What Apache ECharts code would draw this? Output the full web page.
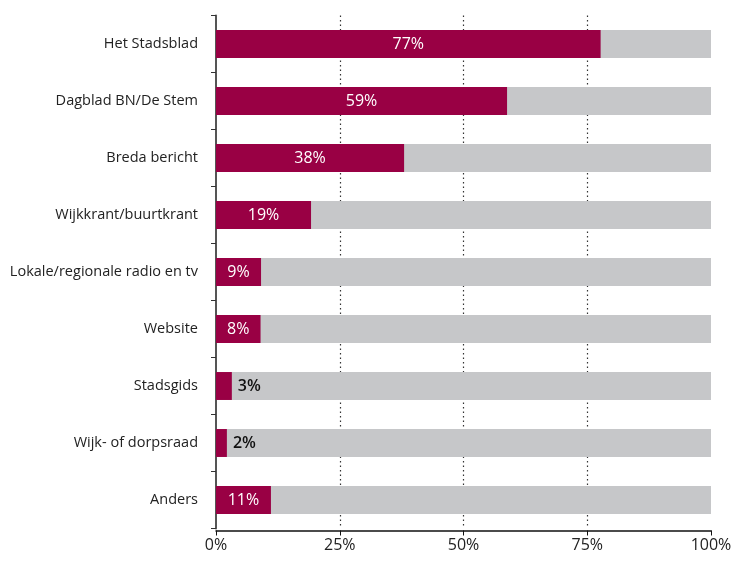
<!DOCTYPE html>
<html>
<head>
<meta charset="utf-8">
<script src="https://cdn.jsdelivr.net/npm/echarts@6/dist/echarts.min.js"></script>
<style>html,body{margin:0;padding:0;background:#fff}#c{width:740px;height:561px}</style>
</head>
<body>
<div id="c"></div>
<script>
const categories = ['Het Stadsblad','Dagblad BN/De Stem','Breda bericht','Wijkkrant/buurtkrant','Lokale/regionale radio en tv','Website','Stadsgids','Wijk- of dorpsraad','Anders'];
const values = [77.7, 58.8, 38, 19.2, 9.1, 9.0, 3.2, 2.2, 11.1];
const valueLabels = ['77%','59%','38%','19%','9%','8%','3%','2%','11%'];
const xTicks = [0, 25, 50, 75, 100];

const chart = echarts.init(document.getElementById('c'), null, {renderer:'canvas'});
const FONT = '"Open Sans", "Noto Sans", sans-serif';
chart.setOption({
  animation: false,
  grid: {left: 216, right: 29, top: 15.5, bottom: 32.5, containLabel: false},
  xAxis: {
    type: 'value', min: 0, max: 100, interval: 25, offset: 2,
    axisLine: {show: true, lineStyle: {color: '#111', width: 1.5}},
    axisTick: {show: true, length: 5, lineStyle: {color: '#111'}},
    axisLabel: {formatter: v => v + '%', color: '#222', fontSize: 16, fontFamily: FONT, margin: 7},
    splitLine: {show: true, showMinLine: false, showMaxLine: false, lineStyle: {color: '#333', type: [1.5, 3], width: 1.2}}
  },
  yAxis: {
    type: 'category', data: categories, inverse: true,
    axisLine: {show: true, lineStyle: {color: '#555', width: 2}},
    axisTick: {show: true, length: 5, lineStyle: {color: '#333'}},
    axisLabel: {color: '#222', fontSize: 14.5, fontFamily: FONT, margin: 18}
  },
  series: [{
    type: 'bar',
    data: values.map((v, i) => ({
      value: v,
      label: v < 5 ? {position: 'right', color: '#111', fontWeight: 600, distance: 6, fontSize: 16} : {position: 'inside', color: '#fff', fontSize: 16}
    })),
    barWidth: '49%',
    itemStyle: {color: '#990044'},
    showBackground: true,
    backgroundStyle: {color: '#c6c7c9'},
    label: {show: true, fontSize: 16, fontFamily: FONT, formatter: p => valueLabels[p.dataIndex]}
  }]
});
</script>
</body>
</html>
